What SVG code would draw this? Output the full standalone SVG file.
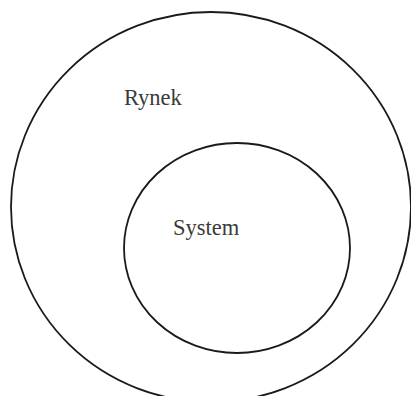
<svg xmlns="http://www.w3.org/2000/svg" width="411" height="396" viewBox="0 0 411 396">
<style>
.ring{fill:none;stroke:#1a1a1a;stroke-width:1.8}
.lbl{font-family:"Liberation Serif","Times New Roman",serif;font-size:22.5px;fill:#3a3a3a}
</style>
<rect width="411" height="396" fill="#fff"/>
<g id="rynek">
<ellipse class="ring" cx="211" cy="207" rx="200" ry="195"/>
<text class="lbl" x="124" y="105">Rynek</text>
</g>
<g id="system">
<ellipse class="ring" cx="237" cy="248" rx="113" ry="105"/>
<text class="lbl" x="173" y="235">System</text>
</g>
<g id="connectors"/>
</svg>
